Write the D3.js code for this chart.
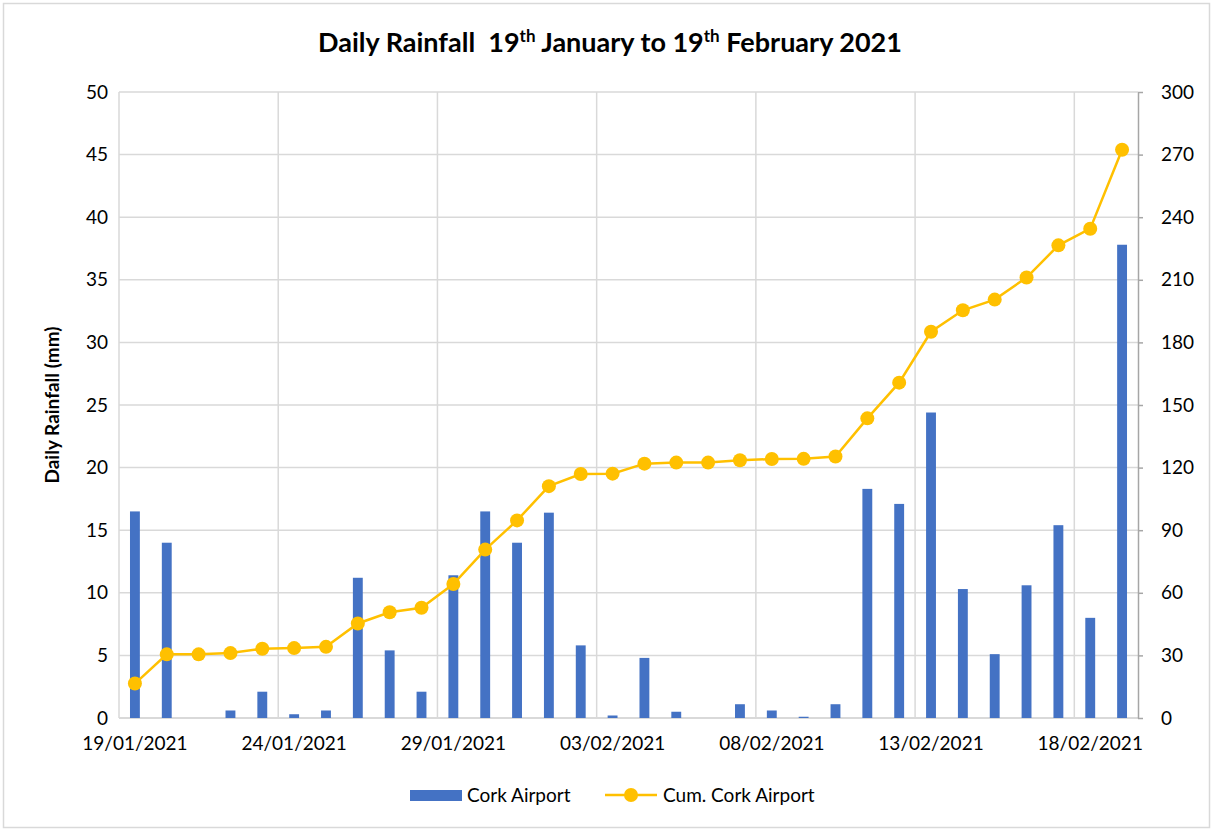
<!DOCTYPE html>
<html>
<head>
<meta charset="utf-8">
<script src="https://cdn.jsdelivr.net/npm/d3@7"></script>
<style>
  body { margin: 0; background: #fff; }
  text { font-family: Lato, "Open Sans", sans-serif; fill: #000; }
</style>
</head>
<body>
<div id="chart"></div>
<script>
// one entry per day, 19 Jan to 19 Feb 2021
const dates = ["19/01/2021","20/01/2021","21/01/2021","22/01/2021","23/01/2021","24/01/2021","25/01/2021","26/01/2021",
  "27/01/2021","28/01/2021","29/01/2021","30/01/2021","31/01/2021","01/02/2021","02/02/2021","03/02/2021",
  "04/02/2021","05/02/2021","06/02/2021","07/02/2021","08/02/2021","09/02/2021","10/02/2021","11/02/2021",
  "12/02/2021","13/02/2021","14/02/2021","15/02/2021","16/02/2021","17/02/2021","18/02/2021","19/02/2021"];

const rainfall = [16.5, 14.0, 0, 0.6, 2.1, 0.3, 0.6, 11.2,
  5.4, 2.1, 11.4, 16.5, 14.0, 16.4, 5.8, 0.2,
  4.8, 0.5, 0, 1.1, 0.6, 0.1, 1.1, 18.3,
  17.1, 24.4, 10.3, 5.1, 10.6, 15.4, 8.0, 37.8];

const cumRainfall = [16.5, 30.5, 30.5, 31.1, 33.2, 33.5, 34.1, 45.3,
  50.7, 52.8, 64.2, 80.7, 94.7, 111.1, 116.9, 117.1,
  121.9, 122.4, 122.4, 123.5, 124.1, 124.2, 125.3, 143.6,
  160.7, 185.1, 195.4, 200.5, 211.1, 226.5, 234.5, 272.3];

const leftTicks = [0, 5, 10, 15, 20, 25, 30, 35, 40, 45, 50];
const rightTicks = [0, 30, 60, 90, 120, 150, 180, 210, 240, 270, 300];
const labelDates = dates.filter((d, i) => i % 5 == 0);

var W = 1213, H = 831;
var margin = {top: 92, right: 75, bottom: 113, left: 119},
    width = W - margin.left - margin.right,
    height = H - margin.top - margin.bottom;

var svg = d3.select("#chart").append("svg")
    .attr("width", W)
    .attr("height", H);

// outer chart border
svg.append("rect")
  .attr("x", 3.5).attr("y", 3.5)
  .attr("width", W - 7).attr("height", H - 7)
  .attr("fill", "#fff")
  .attr("stroke", "#d9d9d9")
  .attr("stroke-width", 1.5);

var g = svg.append("g").attr("transform", "translate(" + margin.left + "," + margin.top + ")");

var x = d3.scaleBand().domain(dates).range([0, width]).paddingInner(0.69).paddingOuter(0.345);
var xb = d3.scaleBand().domain(dates).range([0, width]); // full-width bands for gridlines
var y = d3.scaleLinear().domain([0, 50]).range([height, 0]);
var y2 = d3.scaleLinear().domain([0, 300]).range([height, 0]);

// horizontal gridlines
g.selectAll(".hgrid")
  .data(leftTicks.slice(1))
  .enter().append("line")
    .attr("x1", 0).attr("x2", width)
    .attr("y1", d => y(d)).attr("y2", d => y(d))
    .style("stroke", "#d9d9d9")
    .style("stroke-width", 1.5);

// vertical gridlines at every 5th category boundary
g.selectAll(".vgrid")
  .data(labelDates)
  .enter().append("line")
    .attr("x1", d => xb(d)).attr("x2", d => xb(d))
    .attr("y1", 0).attr("y2", height)
    .style("stroke", "#d9d9d9")
    .style("stroke-width", 1.5);

// bottom axis line
g.append("line")
  .attr("x1", 0).attr("x2", width)
  .attr("y1", height).attr("y2", height)
  .style("stroke", "#d9d9d9")
  .style("stroke-width", 2);

// bars
g.selectAll(".bar")
  .data(rainfall)
  .enter().append("rect")
    .attr("class", "bar")
    .attr("x", (d, i) => x(dates[i]))
    .attr("width", x.bandwidth())
    .attr("y", d => y(d))
    .attr("height", d => height - y(d))
    .attr("fill", "#4472c4");

// cumulative line
var line = d3.line()
  .x((d, i) => xb(dates[i]) + xb.bandwidth() / 2)
  .y(d => y2(d));

g.append("path")
  .datum(cumRainfall)
  .attr("d", line)
  .attr("fill", "none")
  .attr("stroke", "#ffc000")
  .attr("stroke-width", 2.5);

g.selectAll(".dot")
  .data(cumRainfall)
  .enter().append("circle")
    .attr("cx", (d, i) => xb(dates[i]) + xb.bandwidth() / 2)
    .attr("cy", d => y2(d))
    .attr("r", 7)
    .attr("fill", "#ffc000");

// left axis (labels only)
var yAxis = g.append("g")
  .call(d3.axisLeft(y).tickValues(leftTicks).tickSize(0).tickPadding(11));
yAxis.select(".domain").remove();
yAxis.selectAll("text").style("font-size", "19px");

// right axis
var y2Axis = g.append("g")
  .attr("transform", "translate(" + width + ",0)")
  .call(d3.axisRight(y2).tickValues(rightTicks).tickSize(5).tickSizeOuter(0).tickPadding(18));
y2Axis.select(".domain").style("stroke", "#a6a6a6").style("stroke-width", 1.5);
y2Axis.selectAll(".tick line").style("stroke", "#a6a6a6").style("stroke-width", 1.5);
y2Axis.selectAll("text").style("font-size", "19px");

// bottom axis labels
var xAxis = g.append("g")
  .attr("transform", "translate(0," + height + ")")
  .call(d3.axisBottom(xb).tickValues(labelDates).tickSize(0).tickPadding(19));
xAxis.select(".domain").remove();
xAxis.selectAll("text").style("font-size", "19px");

// y axis title
svg.append("text")
  .attr("transform", "translate(59,405) rotate(-90)")
  .attr("text-anchor", "middle")
  .style("font-size", "19px")
  .style("font-weight", "bold")
  .text("Daily Rainfall (mm)");

// title
var title = svg.append("text")
  .attr("x", 610)
  .attr("y", 52)
  .attr("text-anchor", "middle")
  .style("font-size", "27px")
  .style("font-weight", "bold")
  .style("white-space", "pre");
title.append("tspan").text("Daily Rainfall  19");
title.append("tspan").attr("dy", -10).style("font-size", "17px").text("th");
title.append("tspan").attr("dy", 10).text(" January to 19");
title.append("tspan").attr("dy", -10).style("font-size", "17px").text("th");
title.append("tspan").attr("dy", 10).text(" February 2021");

// legend
var legend = svg.append("g").attr("transform", "translate(410,795)");
legend.append("rect")
  .attr("x", 0).attr("y", -5)
  .attr("width", 52).attr("height", 11)
  .attr("fill", "#4472c4");
legend.append("text")
  .attr("x", 57).attr("y", 0).attr("dy", "0.35em")
  .style("font-size", "19px")
  .text("Cork Airport");
legend.append("line")
  .attr("x1", 195).attr("x2", 247)
  .attr("y1", 0).attr("y2", 0)
  .attr("stroke", "#ffc000")
  .attr("stroke-width", 2.5);
legend.append("circle")
  .attr("cx", 221).attr("cy", 0).attr("r", 7)
  .attr("fill", "#ffc000");
legend.append("text")
  .attr("x", 253).attr("y", 0).attr("dy", "0.35em")
  .style("font-size", "19px")
  .text("Cum. Cork Airport");
</script>
</body>
</html>
